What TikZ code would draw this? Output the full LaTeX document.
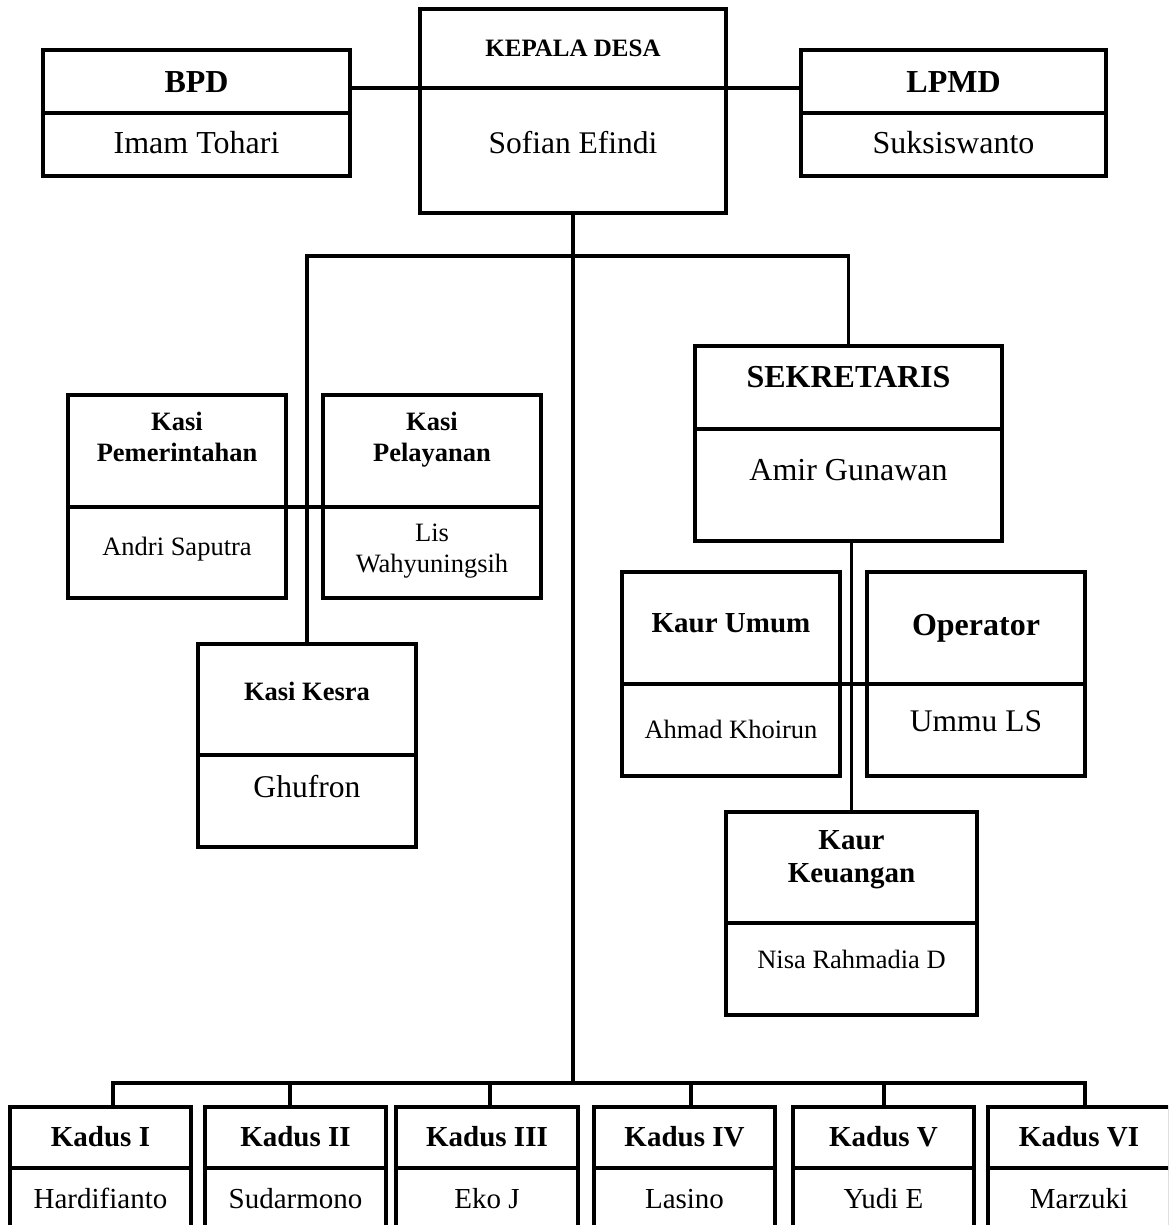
\documentclass[tikz,border=0pt]{standalone}
\usepackage{fontspec}
\setmainfont{Liberation Serif}
\newcommand\fb[1]{\fontsize{#1}{#1}\selectfont\bfseries}
\newcommand\fr[1]{\fontsize{#1}{#1}\selectfont}
% name, x1, y1, x2, y2, divider y
\newcommand\orgbox[6]{%
  \node[orgrect, minimum width={#4-#2}, minimum height={#5-#3}] (#1) at ({(#2+#4)/2},{(#3+#5)/2}) {};
  \draw[orgline] (#1.west |- 0,#6) -- (#1.east |- 0,#6);}
% name, x, baseline y, font, text
\newcommand\tx[5]{\node[lbl, font=#4] (#1) at (#2,#3) {#5};}
\begin{document}
\begin{tikzpicture}[x=1pt,y=-1pt,line join=miter,
  orgrect/.style={draw, line width=3.3pt, inner sep=0pt, outer sep=0pt},
  orgline/.style={line width=3.3pt},
  conn/.style={line width=3.6pt},
  lbl/.style={anchor=base, inner sep=0pt, outer sep=0pt}]
\useasboundingbox (0,0) rectangle (1168,1225);
\clip (0,0) rectangle (1168,1225);
\fill[white] (0,0) rectangle (1168,1225);

% top row
\orgbox{BPD}{43}{50}{350}{176}{113}
\orgbox{KD}{420}{9}{726}{213}{88}
\orgbox{LPMD}{801}{50}{1106}{176}{113}
\tx{tBPD}{196.5}{92.6}{\fb{32}}{BPD}
\tx{nBPD}{196.5}{153.6}{\fr{32}}{Imam Tohari}
\tx{tKD}{573}{56.5}{\fb{25}}{KEPALA DESA}
\tx{nKD}{573}{153.4}{\fr{31.5}}{Sofian Efindi}
\tx{tLPMD}{953.5}{92.6}{\fb{32}}{LPMD}
\tx{nLPMD}{953.5}{153.6}{\fr{32}}{Suksiswanto}

% Kasi
\orgbox{Pem}{68}{395}{286}{598}{507}
\orgbox{Pel}{323}{395}{541}{598}{507}
\orgbox{Kesra}{198}{644}{416}{847}{755}
\tx{tPem1}{177}{430.7}{\fb{26.5}}{Kasi}
\tx{tPem2}{177}{461.7}{\fb{26.5}}{Pemerintahan}
\tx{nPem}{177}{555.7}{\fr{26.5}}{Andri Saputra}
\tx{tPel1}{432}{430.7}{\fb{26.5}}{Kasi}
\tx{tPel2}{432}{461.7}{\fb{26.5}}{Pelayanan}
\tx{nPel1}{432}{541.7}{\fr{26.5}}{Lis}
\tx{nPel2}{432}{572.7}{\fr{26.5}}{Wahyuningsih}
\tx{tKesra}{307}{700.7}{\fb{26.5}}{Kasi Kesra}
\tx{nKesra}{307}{797.4}{\fr{31.6}}{Ghufron}

% Sekretaris group
\orgbox{Sek}{695}{346}{1002}{541}{429}
\orgbox{Umum}{622}{572}{840}{776}{684}
\orgbox{Oper}{867}{572}{1085}{776}{684}
\orgbox{Keu}{726}{812}{977}{1015}{923}
\tx{tSek}{848.5}{387.6}{\fb{32}}{SEKRETARIS}
\tx{nSek}{848.5}{480.6}{\fr{32}}{Amir Gunawan}
\tx{tUmum}{731}{632.6}{\fb{29}}{Kaur Umum}
\tx{nUmum}{731}{738.7}{\fr{26.5}}{Ahmad Khoirun}
\tx{tOper}{976}{635.6}{\fb{32}}{Operator}
\tx{nOper}{976}{731.4}{\fr{31.5}}{Ummu LS}
\tx{tKeu1}{851.5}{849.6}{\fb{29}}{Kaur}
\tx{tKeu2}{851.5}{882.6}{\fb{29}}{Keuangan}
\tx{nKeu}{851.5}{968.7}{\fr{26.5}}{Nisa Rahmadia D}

% Kadus row
\orgbox{K1}{10}{1107}{191}{1250}{1168}
\orgbox{K2}{205}{1107}{386}{1250}{1168}
\orgbox{K3}{396}{1107}{578}{1250}{1168}
\orgbox{K4}{594}{1107}{775}{1250}{1168}
\orgbox{K5}{793}{1107}{974}{1250}{1168}
\orgbox{K6}{988}{1107}{1170}{1250}{1168}
\tx{tK1}{100.5}{1146.3}{\fb{29}}{Kadus I}
\tx{tK2}{295.5}{1146.3}{\fb{29}}{Kadus II}
\tx{tK3}{487}{1146.3}{\fb{29}}{Kadus III}
\tx{tK4}{684.5}{1146.3}{\fb{29}}{Kadus IV}
\tx{tK5}{883.5}{1146.3}{\fb{29}}{Kadus V}
\tx{tK6}{1079}{1146.3}{\fb{29}}{Kadus VI}
\tx{nK1}{100.5}{1208.6}{\fr{29}}{Hardifianto}
\tx{nK2}{295.5}{1208.6}{\fr{29}}{Sudarmono}
\tx{nK3}{487}{1208.6}{\fr{29}}{Eko J}
\tx{nK4}{684.5}{1208.6}{\fr{29}}{Lasino}
\tx{nK5}{883.5}{1208.6}{\fr{29}}{Yudi E}
\tx{nK6}{1079}{1208.6}{\fr{29}}{Marzuki}

% connectors
\coordinate (bl) at (307,256);
\coordinate (bus) at (573,1083);
\coordinate (d1) at ([xshift=12.5pt]K1.north);
\coordinate (d2) at ([xshift=-5.5pt]K2.north);
\coordinate (d3) at ([xshift=3pt]K3.north);
\coordinate (d4) at ([xshift=6.5pt]K4.north);
\coordinate (d5) at ([xshift=0.5pt]K5.north);
\coordinate (d6) at ([xshift=6pt]K6.north);
\draw[conn] (BPD.east |- 0,88) -- (KD.west |- 0,88);
\draw[conn] (KD.east |- 0,88) -- (LPMD.west |- 0,88);
\draw[conn] (KD.south) -- (KD.south |- bus);
\draw[conn] (Kesra.north) -- (Kesra.north |- bl) -- (Sek.north |- bl) -- (Sek.north);
\draw[conn] (Pem.east |- 0,507) -- (Pel.west |- 0,507);
\draw[conn] (Umum.east |- 0,684) -- (Oper.west |- 0,684);
\draw[conn] (Keu.north |- Sek.south) -- (Keu.north);
\draw[conn] (d1) -- (d1 |- bus) -- (d6 |- bus) -- (d6);
\foreach \k in {2,3,4,5} {\draw[conn] (d\k) -- (d\k |- bus);}
\end{tikzpicture}
\end{document}
